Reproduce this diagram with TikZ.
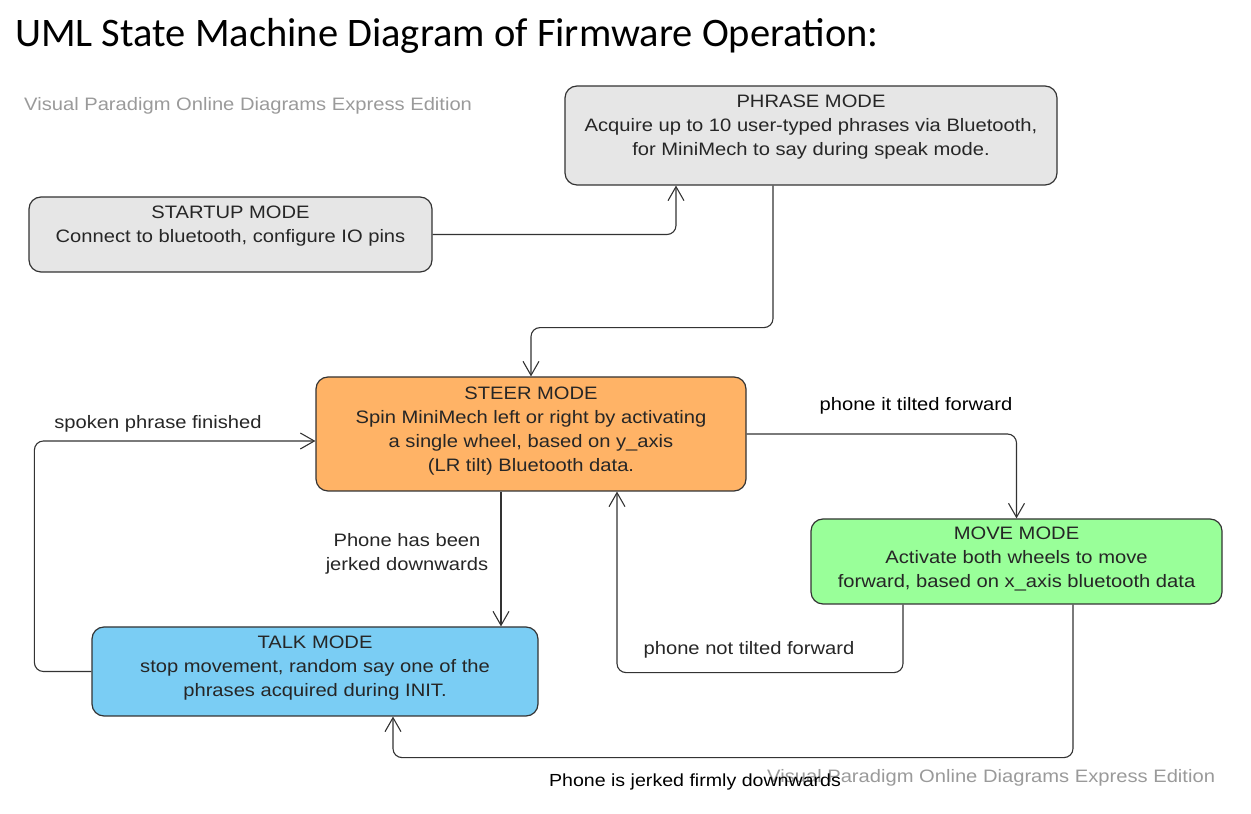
\documentclass[tikz,border=0pt]{standalone}
\usepackage{fontspec}
\setmainfont{Liberation Sans}[FakeStretch=1.12]
\newfontfamily\titlefont{Carlito}
\usetikzlibrary{arrows.meta,positioning}
\definecolor{phrasegray}{HTML}{E6E6E6}
\definecolor{steerorange}{HTML}{FFB366}
\definecolor{movegreen}{HTML}{99FF99}
\definecolor{talkblue}{HTML}{7ACDF4}
\definecolor{edgegray}{HTML}{333333}
\definecolor{wmgray}{HTML}{9A9A9A}
\tikzset{
  state/.style={draw=edgegray,line width=1.2bp,rounded corners=12bp,inner sep=0pt},
  statetext/.style={align=center,inner sep=0pt,text=black!85,font=\fontsize{18bp}{24bp}\selectfont},
  trans/.style={edgegray,line width=1.1bp,rounded corners=9bp,->},
  translabel/.style={align=center,inner sep=0pt,font=\fontsize{18bp}{24bp}\selectfont},
  watermark/.style={anchor=west,inner sep=0pt,text=wmgray,font=\fontsize{18bp}{20bp}\selectfont},
}
\begin{document}
\begin{tikzpicture}[>={Straight Barb[length=14bp,width=16bp]},line join=round]
\useasboundingbox (0bp,0bp) rectangle (1251bp,814bp);
%%
\node (title) at (15bp,767bp) [anchor=base west,inner sep=0pt,font=\titlefont\fontsize{40.5bp}{44bp}\selectfont] {UML State Machine Diagram of Firmware Operation:};
\node (wm_top) at (24bp,708bp) [watermark] {Visual Paradigm Online Diagrams Express Edition};
%
\node (phrase_mode) at (811bp,678.5bp) [state,fill=phrasegray,minimum width=492bp,minimum height=99bp] {};
\node (startup_mode) at (230.5bp,579.5bp) [state,fill=phrasegray,minimum width=403bp,minimum height=75bp] {};
\node (steer_mode) at (531bp,380bp) [state,fill=steerorange,minimum width=430bp,minimum height=114bp] {};
\node (move_mode) at (1016.5bp,252.5bp) [state,fill=movegreen,minimum width=411bp,minimum height=85bp] {};
\node (talk_mode) at (315bp,142.5bp) [state,fill=talkblue,minimum width=446bp,minimum height=89bp] {};
%
\node (phrase_text) [statetext,below=9bp of phrase_mode.north] {PHRASE MODE\\Acquire up to 10 user-typed phrases via Bluetooth,\\for MiniMech to say during speak mode.};
\node (startup_text) [statetext,below=9bp of startup_mode.north] {STARTUP MODE\\Connect to bluetooth, configure IO pins};
\node (steer_text) [statetext,below=10bp of steer_mode.north] {STEER MODE\\Spin MiniMech left or right by activating\\a single wheel, based on y\_axis\\(LR tilt) Bluetooth data.};
\node (move_text) [statetext,below=8bp of move_mode.north] {MOVE MODE\\Activate both wheels to move\\forward, based on x\_axis bluetooth data};
\node (talk_text) [statetext,below=9bp of talk_mode.north] {TALK MODE\\stop movement, random say one of the\\phrases acquired during INIT.};
%
\draw [trans] (startup_mode.east) -| ([xshift=-135bp]phrase_mode.south);
\draw [trans] ([xshift=-38bp]phrase_mode.south) -- ++(0bp,-142bp) -| (steer_mode.north);
\draw [trans] (talk_mode.west) -- ++(-57bp,0bp) |- ([yshift=-7bp]steer_mode.west);
\draw [trans] (steer_mode.east) -| (move_mode.north);
\draw [trans] ([xshift=-113.5bp]move_mode.south) -- ++(0bp,-68bp) -| ([xshift=86bp]steer_mode.south);
\draw [trans] ([xshift=-30bp]steer_mode.south) -- ([xshift=-30bp]steer_mode.south |- talk_mode.north);
\draw [trans] ([xshift=56.5bp]move_mode.south) -- ++(0bp,-153bp) -| ([xshift=78bp]talk_mode.south);
%
\node (lbl_spoken) at (158bp,390bp) [translabel,text=black!85] {spoken phrase finished};
\node (lbl_tilted) at (916bp,408bp) [translabel] {phone it tilted forward};
\node (lbl_jerked) at (407bp,260bp) [translabel,text=black!85] {Phone has been\\jerked downwards};
\node (lbl_nottilted) at (749bp,164bp) [translabel,text=black!85] {phone not tilted forward};
\node (wm_bottom) at (767bp,36bp) [watermark] {Visual Paradigm Online Diagrams Express Edition};
\node (lbl_firmly) at (695bp,32bp) [translabel,font=\fontsize{17.5bp}{24bp}\selectfont] {Phone is jerked firmly downwards};
%
\end{tikzpicture}
\end{document}
